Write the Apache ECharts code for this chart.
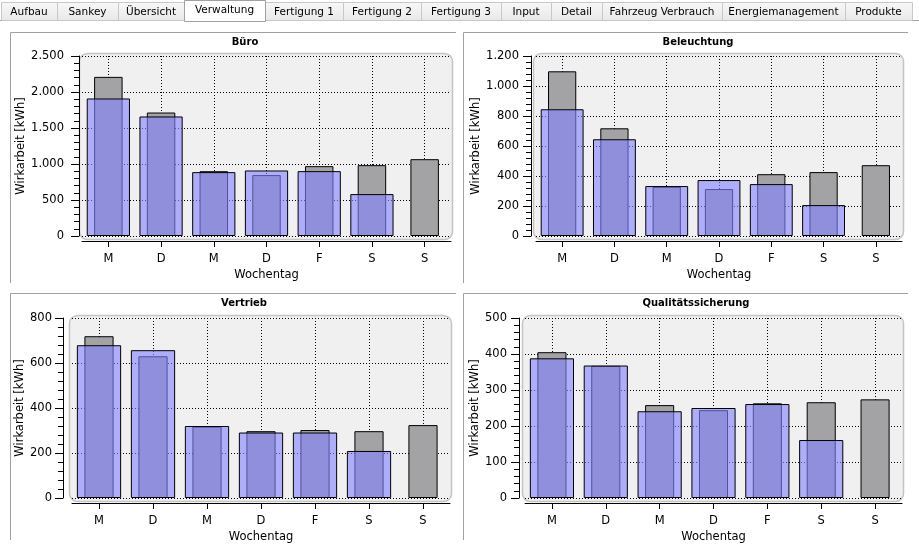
<!DOCTYPE html>
<html><head><meta charset="utf-8">
<script src="https://cdn.jsdelivr.net/npm/echarts@6/dist/echarts.min.js"></script>
<style>html,body{margin:0;padding:0;background:#fff}#c{width:919px;height:555px}</style>
</head><body><div id="c"></div>
<script>
// ---- data ----
const days = ['M','D','M','D','F','S','S'];
const bueroGrau = [2210,1715,900,846,970,984,1067];
const bueroBlau = [1910,1660,887,910,901,582,null];
const beleuchtungGrau = [1098,718,328,313,412,426,472];
const beleuchtungBlau = [845,645,333,373,346,206,null];
const vertriebGrau = [719,630,317,297,302,297,324];
const vertriebBlau = [679,657,320,291,291,209,null];
const qsGrau = [405,367,258,244,263,266,274];
const qsBlau = [388,368,241,250,261,161,null];
const bueroTicks = [0,500,1000,1500,2000,2500];
const beleuchtungTicks = [0,200,400,600,800,1000,1200];
const vertriebTicks = [0,200,400,600,800];
const qsTicks = [0,100,200,300,400,500];
const titles = ['Büro','Beleuchtung','Vertrieb','Qualitätssicherung'];
const tabLabels = ['Aufbau','Sankey','Übersicht','Verwaltung','Fertigung 1','Fertigung 2','Fertigung 3','Input','Detail','Fahrzeug Verbrauch','Energiemanagement','Produkte'];
const activeTab = 3;
const yName = 'Wirkarbeit [kWh]';
const xName = 'Wochentag';

// ---- layout (not data) ----
const tabEdges = [1,57,118,184,265,343,421,501,551,602,722,845,912];
const panels = [
  {grau:bueroGrau, blau:bueroBlau, ticks:bueroTicks, left:82, top:56, width:369, height:180, yOff:3, yGap:48, lm:15, tx:245, ty:42, frame:[10,32,456,283]},
  {grau:beleuchtungGrau, blau:beleuchtungBlau, ticks:beleuchtungTicks, left:536, top:56, width:366, height:180, yOff:5, yGap:49, lm:12, tx:698, ty:42, frame:[463,32,908,283]},
  {grau:vertriebGrau, blau:vertriebBlau, ticks:vertriebTicks, left:72, top:318, width:378, height:180, yOff:9, yGap:34, lm:11, tx:244, ty:303, frame:[10,293,456,540]},
  {grau:qsGrau, blau:qsBlau, ticks:qsTicks, left:525, top:318, width:377, height:180, yOff:6, yGap:37, lm:12, tx:696, ty:303, frame:[463,293,908,540]}
];

const FONT = 'DejaVu Sans';
const FS = 11.5;
const fmt = v => String(v).replace(/\B(?=(\d{3})+(?!\d))/g, '.');
const dotted = {color:'#000', width:1, type:[1,2]};

const grid = [], xAxis = [], yAxis = [], series = [], graphic = [];

// tab bar
graphic.push({type:'line', z:-5, shape:{x1:0,y1:20.5,x2:919,y2:20.5}, style:{stroke:'#a0a0a0', lineWidth:1}});
tabLabels.forEach((t, i) => {
  const x0 = tabEdges[i], x1 = tabEdges[i+1];
  const act = i === activeTab;
  graphic.push({type:'rect', z: act ? -3 : -4,
    shape:{x:x0+0.5, y: act ? 0.5 : 2.5, width:x1-x0, height: act ? 21 : 18},
    style:{fill: act ? '#ffffff' : new echarts.graphic.LinearGradient(0,0,0,1,[{offset:0,color:'#f8f8f8'},{offset:1,color:'#e8e8e8'}]),
      stroke: act ? '#a0a0a0' : '#c8c8c8', lineWidth:1}});
  graphic.push({type:'text', z:-2, x:(x0+x1)/2, y: act ? 10 : 12,
    style:{text:t, fill:'#000', font:'10.5px "' + FONT + '"', textAlign:'center', textVerticalAlign:'middle'}});
});
graphic.push({type:'line', z:-2, shape:{x1:tabEdges[activeTab]+1, y1:20.5, x2:tabEdges[activeTab+1], y2:20.5}, style:{stroke:'#ffffff', lineWidth:1}});

panels.forEach((p, i) => {
  grid.push({left:p.left, top:p.top, width:p.width, height:p.height, containLabel:false});
  const [fx0, fy0, fx1, fy1] = p.frame;
  graphic.push({type:'line', z:-5, shape:{x1:fx0+0.5,y1:fy0+0.5,x2:fx1,y2:fy0+0.5}, style:{stroke:'#a0a0a0', lineWidth:1}});
  graphic.push({type:'line', z:-5, shape:{x1:fx0+0.5,y1:fy0+0.5,x2:fx0+0.5,y2:fy1}, style:{stroke:'#a0a0a0', lineWidth:1}});
  graphic.push({type:'rect', z:-10, shape:{x:p.left-2.5, y:p.top-2.5, width:p.width+4, height:p.height+6, r:8},
    style:{fill:'#f0f0f0', stroke:'#c4c4c4', lineWidth:1.5}});
  graphic.push({type:'text', z:5, x:p.tx, y:p.ty,
    style:{text:titles[i], fill:'#000', font:'bold 10px "' + FONT + '"', textAlign:'center', textVerticalAlign:'middle'}});

  xAxis.push({type:'category', gridIndex:i, data:days, position:'bottom', offset:5,
    name:xName, nameLocation:'middle', nameGap:28,
    nameTextStyle:{color:'#000', fontFamily:FONT, fontSize:FS},
    axisLine:{show:true, onZero:false, lineStyle:{color:'#000', width:1}},
    axisTick:{show:true, alignWithLabel:true, length:6, inside:false, lineStyle:{color:'#000'}},
    axisLabel:{interval:0, margin:12, color:'#000', fontFamily:FONT, fontSize:FS},
    splitLine:{show:true, interval:0, alignWithLabel:true, lineStyle:dotted}});
  xAxis.push({type:'category', gridIndex:i, data:days, show:false});

  const t = p.ticks;
  yAxis.push({type:'value', gridIndex:i, min:t[0], max:t[t.length-1], interval:t[1]-t[0], offset:p.yOff,
    name:yName, nameLocation:'middle', nameGap:p.yGap,
    nameTextStyle:{color:'#000', fontFamily:FONT, fontSize:FS},
    axisLine:{show:true, onZero:false, lineStyle:{color:'#000', width:1}},
    axisTick:{show:true, length:8, lineStyle:{color:'#000'}},
    minorTick:{show:true, splitNumber:5, length:5, lineStyle:{color:'#000'}},
    axisLabel:{formatter:fmt, margin:p.lm, color:'#000', fontFamily:FONT, fontSize:FS},
    splitLine:{show:true, lineStyle:dotted}});

  series.push({type:'bar', xAxisIndex:2*i+1, yAxisIndex:i, data:p.grau, barWidth:'54%',
    itemStyle:{color:'#a3a3a6', borderColor:'#000', borderWidth:1}, z:2});
  series.push({type:'bar', xAxisIndex:2*i, yAxisIndex:i, data:p.blau, barWidth:'82%',
    itemStyle:{color:'rgba(130,130,255,0.61)', borderColor:'#000', borderWidth:1}, z:3});
});

const chart = echarts.init(document.getElementById('c'), null, {renderer:'canvas'});
chart.setOption({
  animation:false,
  backgroundColor:'#ffffff',
  textStyle:{fontFamily:FONT},
  grid, xAxis, yAxis, series, graphic
});
</script></body></html>
